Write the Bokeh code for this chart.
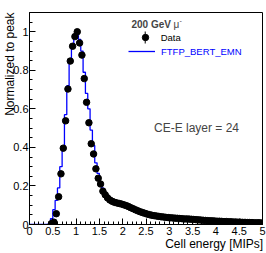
import numpy as np
from bokeh.plotting import figure
from bokeh.models import (Range1d, FixedTicker, Label, Legend, LegendItem,
                          BoxAnnotation, ColumnDataSource)
from bokeh.embed import file_html
from bokeh.resources import INLINE

# ---------------- data ----------------
BIN_WIDTH = 0.05
X_MIN, X_MAX = 0.0, 5.0
Y_MIN, Y_MAX = 0.0, 1.1

# Data (200 GeV muons), first filled bin starts at 0.45 MIP
data_first_edge = 0.45
data_vals = [
    0.005, 0.012, 0.056, 0.144, 0.263, 0.396, 0.538, 0.703, 0.848, 0.925,
    0.975, 1.000, 0.942, 0.879, 0.757, 0.634, 0.528, 0.419, 0.366, 0.289,
    0.240, 0.210, 0.173, 0.154, 0.138, 0.127, 0.120, 0.115, 0.112, 0.109,
    0.106, 0.102, 0.098, 0.093, 0.087, 0.082, 0.076, 0.071, 0.066, 0.062,
    0.058, 0.054, 0.051, 0.048, 0.046, 0.044, 0.042, 0.040, 0.039, 0.037,
    0.036, 0.035, 0.034, 0.033, 0.032, 0.031, 0.030, 0.029, 0.029, 0.028,
    0.027, 0.026, 0.025, 0.024, 0.023, 0.022, 0.021, 0.020, 0.019, 0.019,
    0.018, 0.017, 0.017, 0.016, 0.015, 0.015, 0.014, 0.014, 0.013, 0.013,
    0.012, 0.012, 0.011, 0.011, 0.010, 0.010, 0.010, 0.009, 0.009, 0.009,
    0.008,
]

# Simulation FTFP_BERT_EMN, first filled bin starts at 0.40 MIP
mc_first_edge = 0.40
mc_vals = [
    0.004, 0.030, 0.077, 0.125, 0.190, 0.300, 0.400, 0.570, 0.720, 0.855,
    0.935, 0.980, 1.000, 0.960, 0.900, 0.790, 0.680, 0.600, 0.490, 0.410,
    0.320, 0.265, 0.222, 0.188, 0.166, 0.152, 0.138, 0.128, 0.121, 0.116,
    0.111, 0.107, 0.104, 0.099, 0.095, 0.089, 0.084, 0.077, 0.073, 0.067,
    0.063, 0.058, 0.055, 0.052, 0.049, 0.047, 0.045, 0.043, 0.041, 0.040,
    0.038, 0.037, 0.036, 0.034, 0.034, 0.032, 0.032, 0.030, 0.030, 0.028,
    0.028, 0.027, 0.026, 0.025, 0.025, 0.023, 0.023, 0.021, 0.021, 0.019,
    0.019, 0.018, 0.018, 0.017, 0.016, 0.016, 0.015, 0.014, 0.014, 0.013,
    0.013, 0.012, 0.012, 0.011, 0.011, 0.010, 0.010, 0.010, 0.009, 0.009,
    0.009, 0.008,
]

x_ticks = [0, 0.5, 1, 1.5, 2, 2.5, 3, 3.5, 4, 4.5, 5]
x_tick_labels = ["0", "0.5", "1", "1.5", "2", "2.5", "3", "3.5", "4", "4.5", "5"]
y_ticks = [0, 0.2, 0.4, 0.6, 0.8, 1.0]
y_tick_labels = ["0", "0.2", "0.4", "0.6", "0.8", "1"]

x_title = "Cell energy [MIPs]"
y_title = "Normalized to peak"
header = "200 GeV"
particle = "\u03bc"
label_data = "Data"
label_mc = "FTFP_BERT_EMN"
layer_text = "CE-E layer = 24"

# ---------------- derived ----------------
data_x = [data_first_edge + BIN_WIDTH * (i + 0.5) for i in range(len(data_vals))]
mc_edges = [mc_first_edge + BIN_WIDTH * i for i in range(len(mc_vals))]
mc_x = [X_MIN] + mc_edges + [X_MAX]
mc_y = [0.0] + mc_vals + [mc_vals[-1]]

FONT = "Liberation Sans"
W, H = 266, 253
L, R, T, B = 29, 4, 12, 27
NBSP = "\u00a0"

p = figure(width=W, height=H, output_backend="svg", toolbar_location=None,
           x_range=Range1d(X_MIN, X_MAX), y_range=Range1d(Y_MIN, Y_MAX),
           min_border_left=L, min_border_right=R, min_border_top=T,
           min_border_bottom=B)
p.grid.visible = False
p.outline_line_color = "black"
p.outline_line_width = 1
p.background_fill_color = "white"
p.border_fill_color = "white"

x_minor = [i / 10 for i in range(51)]
y_minor = [i / 20 for i in range(23)]
p.xaxis.ticker = FixedTicker(ticks=x_ticks, minor_ticks=x_minor)
p.yaxis.ticker = FixedTicker(ticks=y_ticks, minor_ticks=y_minor)
p.xaxis.major_label_overrides = dict(zip(x_ticks, x_tick_labels))
p.yaxis.major_label_overrides = dict(zip(y_ticks, y_tick_labels))
for ax in (p.xaxis, p.yaxis):
    ax.major_tick_in = 6
    ax.major_tick_out = 0
    ax.minor_tick_in = 3
    ax.minor_tick_out = 0
    ax.major_label_text_font = FONT
    ax.major_label_text_font_size = "11px"
    ax.major_label_text_color = "black"
    ax.axis_line_color = "black"
    ax.major_tick_line_color = "black"
    ax.minor_tick_line_color = "black"
    ax.axis_label_text_font = FONT
    ax.axis_label_text_font_size = "12px"
    ax.axis_label_text_font_style = "normal"
    ax.axis_label_text_color = "black"
    if "axis_label_align" in ax[0].properties():
        ax.axis_label_align = "end"
p.xaxis.major_label_standoff = 2
p.yaxis.major_label_standoff = 1
# the label is centred on the axis end: trailing no-break spaces of the same
# width push the visible words to end exactly at the axis end (ROOT style)
p.xaxis.axis_label = x_title + NBSP * 29
p.yaxis.axis_label = y_title + NBSP * 31
p.xaxis.axis_label_standoff = -1
p.yaxis.axis_label_standoff = -7

# MC histogram
mc_r = p.step(mc_x, mc_y, mode="after", line_color="#0000ff", line_width=1.3)

# Data points
src = ColumnDataSource(dict(x=data_x, y=data_vals))
data_r = p.scatter("x", "y", source=src, size=6.5, marker="circle",
                   fill_color="black", line_color="black")

# Legends
leg1 = Legend(items=[LegendItem(label=label_data, renderers=[data_r])],
              location=(102.7, 179), padding=0, margin=0, spacing=0,
              glyph_width=26, glyph_height=16, label_height=16,
              label_standoff=3, border_line_alpha=0, background_fill_alpha=0,
              label_text_font=FONT, label_text_font_size="9.5px",
              label_text_color="black")
leg2 = Legend(items=[LegendItem(label=label_mc, renderers=[mc_r])],
              location=(99, 164.7), padding=0, margin=0, spacing=0,
              glyph_width=27, glyph_height=16, label_height=16,
              label_standoff=6, border_line_alpha=0, background_fill_alpha=0,
              label_text_font=FONT, label_text_font_size="9.5px",
              label_text_color="#0000ff")
p.add_layout(leg1)
p.add_layout(leg2)

# vertical error bar in the Data legend key
p.add_layout(BoxAnnotation(left=115.2, right=116.2, bottom=181, top=193,
                           left_units="screen", right_units="screen",
                           bottom_units="screen", top_units="screen",
                           fill_color="black", fill_alpha=1, line_alpha=0))

def lab(text, x, y, size, **kw):
    p.add_layout(Label(x=x, y=y, x_units="screen", y_units="screen", text=text,
                       text_font=FONT, text_font_size=size,
                       text_baseline="alphabetic", **kw))

lab(header, 102, 200, "10px", text_font_style="bold")
lab(particle, 144, 200, "10px")
lab("-", 150, 204, "7px")
lab(layer_text, 124.5, 97, "12px")

open("out.html", "w").write(file_html(p, INLINE))
